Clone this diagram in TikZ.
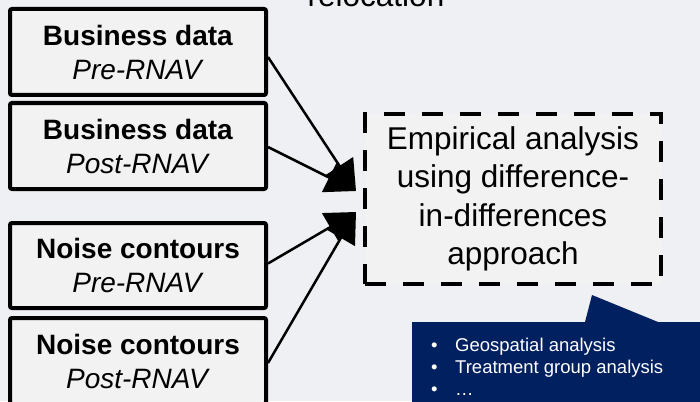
\documentclass[tikz,border=0pt]{standalone}
\usepackage{fontspec}
\setmainfont{Liberation Sans}
\usetikzlibrary{arrows.meta}
\definecolor{bg}{HTML}{EFF0F4}
\definecolor{boxfill}{HTML}{F2F2F2}
\definecolor{navy}{HTML}{002060}
\begin{document}
\begin{tikzpicture}[x=1pt,y=-1pt,
  databox/.style={draw=black, line width=4pt, fill=boxfill, rounded corners=2pt,
    minimum width=256pt, minimum height=86pt, inner sep=0pt, align=center,
    font=\fontsize{28}{34}\selectfont},
  empbox/.style={draw=black, line width=4pt, fill=boxfill, dash pattern=on 21pt off 17pt,
    minimum width=296pt, minimum height=170pt, inner sep=0pt, align=center,
    font=\fontsize{31.5}{38.5}\selectfont},
  link/.style={line width=2.5pt, -{Triangle[length=30pt,width=32pt]}},
  bullettext/.style={anchor=base west, inner sep=0pt, text=white, font=\fontsize{18.5}{22}\selectfont}
]
\path[use as bounding box, fill=bg] (0,0) rectangle (700,401);
\clip (0,0) rectangle (700,401);

\node[anchor=base, inner sep=0pt, font=\fontsize{31.5}{38.5}\selectfont] (reloc) at (376,7) {relocation};

\node[databox] (b1) at (138,52) {\textbf{Business data}\\\textit{Pre-RNAV}};
\node[databox] (b2) at (138,146) {\textbf{Business data}\\\textit{Post-RNAV}};
\node[databox, minimum height=85pt] (n1) at (138,265.5) {\textbf{Noise contours}\\\textit{Pre-RNAV}};
\node[databox] (n2) at (138,361) {\textbf{Noise contours}\\\textit{Post-RNAV}};

\node[empbox] (emp) at (513,199) {Empirical analysis\\using difference-\\in-differences\\approach};

\coordinate (tipA) at (356,191);
\coordinate (tipB) at (356,212);

\draw[link] ([yshift=-5pt]b1.east) -- (tipA);
\draw[link] ([yshift=-1pt]b2.east) -- (tipA);
\draw[link] ([yshift=2pt]n1.east) -- (tipB);
\draw[link] ([yshift=-2pt]n2.east) -- (tipB);

\fill[navy] (412,322) -- (585,322) -- (592,295) -- (658,322) -- (705,322) -- (705,405) -- (412,405) -- cycle;
\node[bullettext] (bu1) at (431,351) {•};
\node[bullettext] (t1) at (455,351) {Geospatial analysis};
\node[bullettext] (bu2) at (431,373) {•};
\node[bullettext] (t2) at (455,373) {Treatment group analysis};
\node[bullettext] (bu3) at (431,395) {•};
\node[bullettext] (t3) at (455,395) {…};
\end{tikzpicture}
\end{document}
